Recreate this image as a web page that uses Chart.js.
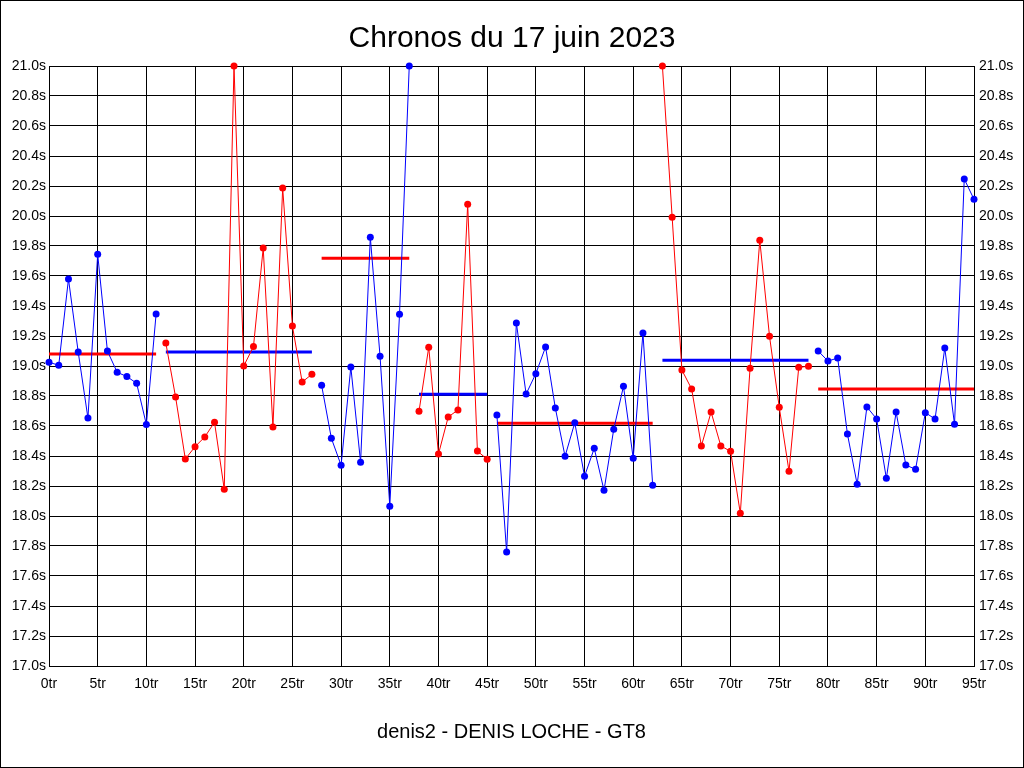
<!DOCTYPE html>
<html lang="fr">
<head>
    <meta charset="UTF-8">
    <title>Chronos du 17 juin 2023</title>
    <script src="https://cdn.jsdelivr.net/npm/chart.js"></script>
    <style>
        body { margin: 0; background: #fff; }
        canvas { display: block; }
    </style>
</head>
<body>
    <canvas id="chronoChart" width="1024" height="768"></canvas>

    <script>
        // Temps au tour (index = numéro du tour)
        const lapTimes = [
            19.025, 19.005, 19.58, 19.093, 18.653, 19.745, 19.10, 18.958, 18.93, 18.885, 18.61, 19.347,
            19.153, 18.793, 18.38, 18.462, 18.527, 18.625, 18.178, 21.0, 19.0, 19.13, 19.787, 18.593, 20.187, 19.267, 18.893, 18.945,
            18.871, 18.518, 18.338, 18.993, 18.358, 19.858, 19.065, 18.065, 19.345, 21.0,
            18.698, 19.125, 18.413, 18.66, 18.707, 20.078, 18.433, 18.378,
            18.673, 17.76, 19.287, 18.813, 18.949, 19.127, 18.72, 18.398, 18.622, 18.265, 18.451, 18.171, 18.578, 18.865, 18.385, 19.22, 18.205,
            21.0, 19.991, 18.973, 18.847, 18.467, 18.693, 18.467, 18.431, 18.018, 18.985, 19.838, 19.198, 18.725, 18.298, 18.991, 18.998,
            19.1, 19.033, 19.053, 18.547, 18.211, 18.727, 18.647, 18.251, 18.693, 18.34, 18.311, 18.689, 18.647, 19.12, 18.611, 20.247, 20.111
        ];

        // Relais : premier et dernier tour, moyenne
        const stintFirst = [0, 12, 28, 38, 46, 63, 79];
        const stintLast = [11, 27, 37, 45, 62, 78, 95];
        const stintAvg = [19.08, 19.093, 19.718, 18.811, 18.618, 19.038, 18.847];
        const stintColors = ['#0000ff', '#ff0000'];

        const datasets = [];
        stintFirst.forEach((first, i) => {
            const color = stintColors[i % 2];
            const avgColor = stintColors[(i + 1) % 2];
            const pts = [];
            for (let lap = first; lap <= stintLast[i]; lap++) {
                pts.push({ x: lap, y: lapTimes[lap] });
            }
            datasets.push({
                data: pts,
                showLine: true,
                borderColor: color,
                backgroundColor: color,
                borderWidth: 1,
                pointRadius: 3.5,
                pointBorderWidth: 0,
                clip: false
            });
            // ligne de moyenne du relais
            datasets.push({
                data: [{ x: first, y: stintAvg[i] }, { x: stintLast[i], y: stintAvg[i] }],
                showLine: true,
                borderColor: avgColor,
                borderWidth: 3,
                pointRadius: 0,
                clip: false
            });
        });

        // fond blanc + cadre
        const frame = {
            id: 'frame',
            beforeDraw(chart) {
                const c = chart.ctx;
                c.save();
                c.fillStyle = '#fff';
                c.fillRect(0, 0, chart.width, chart.height);
                c.restore();
            },
            afterDraw(chart) {
                const c = chart.ctx;
                c.save();
                c.strokeStyle = '#000';
                c.lineWidth = 1;
                c.strokeRect(0.5, 0.5, chart.width - 1, chart.height - 1);
                c.restore();
            }
        };

        const tickFont = { family: 'Arial, "Liberation Sans", sans-serif', size: 14 };
        const yTicks = {
            stepSize: 0.2,
            autoSkip: false,
            color: '#000',
            font: tickFont,
            callback: v => v.toFixed(1) + 's'
        };

        new Chart(document.getElementById('chronoChart'), {
            type: 'scatter',
            data: { datasets },
            plugins: [frame],
            options: {
                responsive: false,
                animation: false,
                layout: { padding: 0 },
                plugins: {
                    legend: { display: false },
                    tooltip: { enabled: false },
                    title: {
                        display: true,
                        text: 'Chronos du 17 juin 2023',
                        color: '#000',
                        font: { family: 'Arial, "Liberation Sans", sans-serif', size: 30, weight: 'normal' },
                        padding: { top: 21, bottom: 9 }
                    }
                },
                scales: {
                    x: {
                        type: 'linear',
                        min: 0,
                        max: 95,
                        grid: { color: '#000', drawTicks: false },
                        border: { color: '#000' },
                        ticks: {
                            stepSize: 5,
                            autoSkip: false,
                            maxRotation: 0,
                            padding: 10,
                            color: '#000',
                            font: tickFont,
                            callback: v => v + 'tr'
                        },
                        title: {
                            display: true,
                            text: 'denis2 - DENIS LOCHE - GT8',
                            color: '#000',
                            font: { family: 'Arial, "Liberation Sans", sans-serif', size: 20 },
                            padding: { top: 0, bottom: 24 }
                        },
                        afterFit: s => { s.height = 102; }
                    },
                    y: {
                        position: 'left',
                        min: 17,
                        max: 21,
                        grid: { color: '#000', drawTicks: false },
                        border: { color: '#000' },
                        ticks: Object.assign({ padding: 3 }, yTicks),
                        afterFit: s => { s.width = 49; }
                    },
                    y2: {
                        position: 'right',
                        min: 17,
                        max: 21,
                        grid: { display: false, drawTicks: false },
                        border: { color: '#000' },
                        ticks: Object.assign({ padding: 5 }, yTicks),
                        afterFit: s => { s.width = 50; }
                    }
                }
            }
        });
    </script>
</body>
</html>
